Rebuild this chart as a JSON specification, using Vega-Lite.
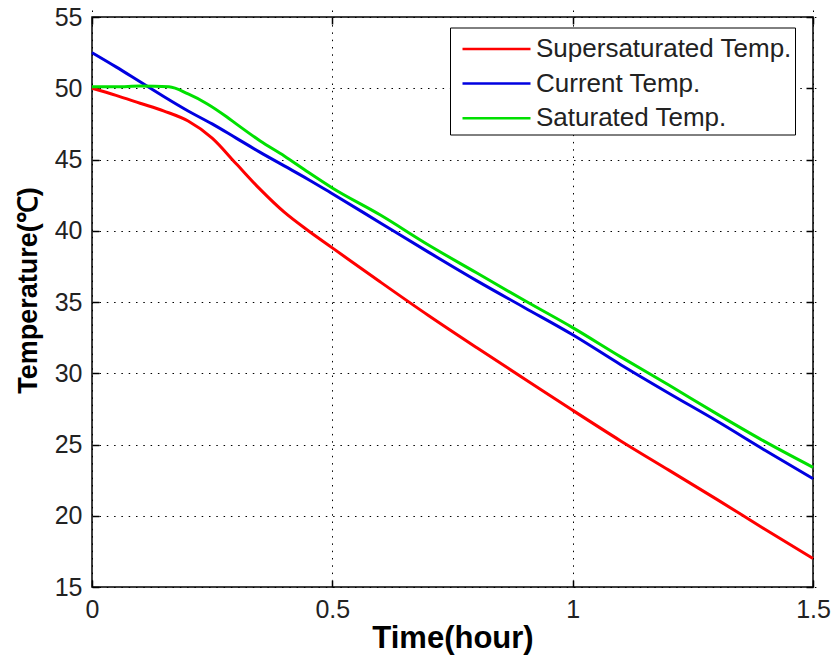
{
  "$schema": "https://vega.github.io/schema/vega-lite/v6.json",
  "width": 721,
  "height": 570,
  "autosize": "none",
  "padding": {"left": 92, "top": 17, "right": 20, "bottom": 73},
  "background": "white",
  "config": {
    "view": {"stroke": "black", "strokeWidth": 1.5},
    "font": "Liberation Sans",
    "axis": {
      "labelFont": "Liberation Sans",
      "labelFontSize": 25,
      "labelColor": "#222",
      "labelFlush": false,
      "labelOverlap": false,
      "titleFont": "Liberation Sans",
      "titleFontSize": 31,
      "titleFontWeight": "bold",
      "titleColor": "black",
      "domain": false,
      "ticks": true,
      "tickColor": "black",
      "tickWidth": 1.5,
      "tickSize": 7,
      "offset": -7,
      "gridColor": "black",
      "gridDash": [1.5, 5.8],
      "gridOpacity": 1,
      "gridWidth": 1
    }
  },
  "data": {
    "values": [
      {"t": 0, "T": 50.0, "s": "Supersaturated Temp."},
      {"t": 0.05, "T": 49.5, "s": "Supersaturated Temp."},
      {"t": 0.1, "T": 48.95, "s": "Supersaturated Temp."},
      {"t": 0.15, "T": 48.4, "s": "Supersaturated Temp."},
      {"t": 0.2, "T": 47.7, "s": "Supersaturated Temp."},
      {"t": 0.25, "T": 46.5, "s": "Supersaturated Temp."},
      {"t": 0.3, "T": 44.7, "s": "Supersaturated Temp."},
      {"t": 0.35, "T": 42.9, "s": "Supersaturated Temp."},
      {"t": 0.4, "T": 41.3, "s": "Supersaturated Temp."},
      {"t": 0.45, "T": 40.0, "s": "Supersaturated Temp."},
      {"t": 0.5, "T": 38.8, "s": "Supersaturated Temp."},
      {"t": 0.6, "T": 36.4, "s": "Supersaturated Temp."},
      {"t": 0.7, "T": 34.05, "s": "Supersaturated Temp."},
      {"t": 0.8, "T": 31.8, "s": "Supersaturated Temp."},
      {"t": 0.9, "T": 29.6, "s": "Supersaturated Temp."},
      {"t": 1.0, "T": 27.4, "s": "Supersaturated Temp."},
      {"t": 1.1, "T": 25.25, "s": "Supersaturated Temp."},
      {"t": 1.2, "T": 23.2, "s": "Supersaturated Temp."},
      {"t": 1.3, "T": 21.15, "s": "Supersaturated Temp."},
      {"t": 1.4, "T": 19.05, "s": "Supersaturated Temp."},
      {"t": 1.5, "T": 17.0, "s": "Supersaturated Temp."},
      {"t": 0, "T": 52.5, "s": "Current Temp."},
      {"t": 0.05, "T": 51.5, "s": "Current Temp."},
      {"t": 0.1, "T": 50.45, "s": "Current Temp."},
      {"t": 0.15, "T": 49.4, "s": "Current Temp."},
      {"t": 0.2, "T": 48.4, "s": "Current Temp."},
      {"t": 0.25, "T": 47.5, "s": "Current Temp."},
      {"t": 0.3, "T": 46.5, "s": "Current Temp."},
      {"t": 0.35, "T": 45.5, "s": "Current Temp."},
      {"t": 0.4, "T": 44.55, "s": "Current Temp."},
      {"t": 0.45, "T": 43.6, "s": "Current Temp."},
      {"t": 0.5, "T": 42.6, "s": "Current Temp."},
      {"t": 0.6, "T": 40.55, "s": "Current Temp."},
      {"t": 0.7, "T": 38.5, "s": "Current Temp."},
      {"t": 0.8, "T": 36.5, "s": "Current Temp."},
      {"t": 0.9, "T": 34.6, "s": "Current Temp."},
      {"t": 1.0, "T": 32.7, "s": "Current Temp."},
      {"t": 1.1, "T": 30.6, "s": "Current Temp."},
      {"t": 1.2, "T": 28.6, "s": "Current Temp."},
      {"t": 1.3, "T": 26.65, "s": "Current Temp."},
      {"t": 1.4, "T": 24.6, "s": "Current Temp."},
      {"t": 1.5, "T": 22.6, "s": "Current Temp."},
      {"t": 0, "T": 50.1, "s": "Saturated Temp."},
      {"t": 0.05, "T": 50.1, "s": "Saturated Temp."},
      {"t": 0.1, "T": 50.15, "s": "Saturated Temp."},
      {"t": 0.16, "T": 50.1, "s": "Saturated Temp."},
      {"t": 0.2, "T": 49.6, "s": "Saturated Temp."},
      {"t": 0.24, "T": 48.9, "s": "Saturated Temp."},
      {"t": 0.28, "T": 48.0, "s": "Saturated Temp."},
      {"t": 0.3, "T": 47.5, "s": "Saturated Temp."},
      {"t": 0.35, "T": 46.3, "s": "Saturated Temp."},
      {"t": 0.4, "T": 45.25, "s": "Saturated Temp."},
      {"t": 0.45, "T": 44.1, "s": "Saturated Temp."},
      {"t": 0.5, "T": 43.0, "s": "Saturated Temp."},
      {"t": 0.6, "T": 41.1, "s": "Saturated Temp."},
      {"t": 0.7, "T": 39.0, "s": "Saturated Temp."},
      {"t": 0.8, "T": 37.05, "s": "Saturated Temp."},
      {"t": 0.9, "T": 35.1, "s": "Saturated Temp."},
      {"t": 1.0, "T": 33.2, "s": "Saturated Temp."},
      {"t": 1.1, "T": 31.15, "s": "Saturated Temp."},
      {"t": 1.2, "T": 29.17, "s": "Saturated Temp."},
      {"t": 1.3, "T": 27.15, "s": "Saturated Temp."},
      {"t": 1.4, "T": 25.2, "s": "Saturated Temp."},
      {"t": 1.5, "T": 23.4, "s": "Saturated Temp."}
    ]
  },
  "layer": [
    {
      "mark": {"type": "line", "strokeWidth": 3, "interpolate": "monotone"},
      "encoding": {
        "x": {
          "field": "t", "type": "quantitative",
          "scale": {"domain": [0, 1.5], "nice": false},
          "axis": {"values": [0, 0.5, 1, 1.5], "format": "~g", "title": "Time(hour)", "labelPadding": 10, "titlePadding": 1, "grid": true}
        },
        "y": {
          "field": "T", "type": "quantitative",
          "scale": {"domain": [15, 55], "nice": false},
          "axis": {"values": [15, 20, 25, 30, 35, 40, 45, 50, 55], "title": "Temperature(℃)", "titleFontSize": 27, "titleY": 273, "labelPadding": 10, "titlePadding": 12, "grid": true}
        },
        "color": {
          "field": "s", "type": "nominal", "sort": null,
          "scale": {"domain": ["Supersaturated Temp.", "Current Temp.", "Saturated Temp."], "range": ["#ff0000", "#0000e0", "#00e000"]},
          "legend": {
            "orient": "none", "legendX": 358, "legendY": 10.5,
            "title": null,
            "strokeColor": "black", "fillColor": "white",
            "padding": 3,
            "symbolType": "M-2,0H2",
            "symbolSize": 1156,
            "symbolStrokeWidth": 2.5,
            "symbolOffset": 25,
            "labelOffset": 21,
            "labelExpr": "datum.label + ' '",
            "labelFont": "Liberation Sans",
            "labelFontSize": 26,
            "labelColor": "#222",
            "labelLimit": 400,
            "rowPadding": 2.6
          }
        }
      }
    },
    {
      "mark": {"type": "line", "opacity": 0},
      "encoding": {
        "x": {
          "field": "t", "type": "quantitative",
          "axis": {"orient": "top", "values": [0, 0.5, 1, 1.5], "labels": false, "title": null, "grid": false}
        },
        "y": {
          "field": "T", "type": "quantitative",
          "axis": {"orient": "right", "values": [15, 20, 25, 30, 35, 40, 45, 50, 55], "labels": false, "title": null, "grid": false}
        },
        "detail": {"field": "s"}
      }
    }
  ],
  "resolve": {"axis": {"x": "independent", "y": "independent"}}
}
